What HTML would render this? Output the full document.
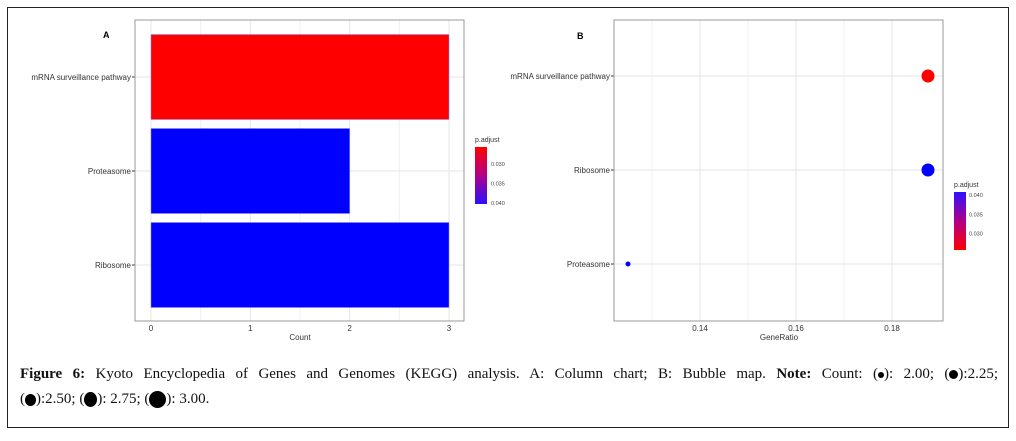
<!DOCTYPE html>
<html><head><meta charset="utf-8"><style>
body{margin:0;background:#fff;width:1016px;height:441px;overflow:hidden;position:relative;font-family:"Liberation Sans",sans-serif}
#frame{position:absolute;left:7px;top:7px;width:1002px;height:421px;border:1px solid #222;box-sizing:border-box}
#cap{position:absolute;left:20px;top:362px;width:978px;font-family:"Liberation Serif",serif;font-size:15px;line-height:25px;color:#111}
#cap .l1{text-align:justify;text-align-last:justify;white-space:nowrap}
.d{display:inline-block;background:#000;border-radius:50%;vertical-align:middle}
svg text{font-family:"Liberation Sans",sans-serif}
</style></head><body>
<div id="frame"></div>
<svg id="chart" width="1016" height="441" style="position:absolute;left:0;top:0">
<defs>
<linearGradient id="gA" x1="0" y1="0" x2="0" y2="1"><stop offset="0" stop-color="#ff0000"/><stop offset="0.5" stop-color="#b0008a"/><stop offset="1" stop-color="#2a10ff"/></linearGradient>
<linearGradient id="gB" x1="0" y1="0" x2="0" y2="1"><stop offset="0" stop-color="#3010ff"/><stop offset="0.5" stop-color="#b0008a"/><stop offset="1" stop-color="#ff0000"/></linearGradient>
</defs>
<g id="pa"></g><g id="pb"></g>
</svg>
<div id="cap"><div class="l1" style="white-space:normal"><b>Figure 6:</b> Kyoto Encyclopedia of Genes and Genomes (KEGG) analysis. A: Column chart; B: Bubble map. <b>Note:</b> Count: (<span class="d" style="width:6px;height:6px"></span>): 2.00; (<span class="d" style="width:9px;height:9px"></span>):2.25;</div><div>(<span class="d" style="width:11px;height:12px"></span>):2.50; (<span class="d" style="width:13px;height:15px"></span>): 2.75; (<span class="d" style="width:17px;height:17px"></span>): 3.00.</div></div>
<script>
const catsA=["mRNA surveillance pathway","Proteasome","Ribosome"];
const countsA=[3,2,3];
const padjA=[0.027,0.040,0.040];
const ticksA=[0,1,2,3];
const catsB=["mRNA surveillance pathway","Ribosome","Proteasome"];
const ratioB=[0.1875,0.1875,0.125];
const countB=[3,3,2];
const padjB=[0.027,0.040,0.040];
const ticksB=[0.14,0.16,0.18];
const legTicksA=[0.030,0.035,0.040];
const NS="http://www.w3.org/2000/svg";
function mk(p,t,a,txt){const e=document.createElementNS(NS,t);for(const k in a)e.setAttribute(k,a[k]);if(txt!=null)e.textContent=txt;p.appendChild(e);return e;}
function col(p){return p<0.033?"#ff0000":"#0000ff";}
// Panel A
const A=document.getElementById('pa');
const ax=v=>151+v*99.33;
const ay=i=>77+i*94;
const aL=135,aR=464,aT=20,aB=321;
for(let v=0.5;v<3.5;v+=1){let g=mk(A,'line',{x1:ax(v),x2:ax(v),y1:aT,y2:aB,stroke:'#f0f0f0'});}
ticksA.forEach(t=>{let g=mk(A,'line',{x1:ax(t),x2:ax(t),y1:aT,y2:aB,stroke:'#e6e6e6'});
 let l=mk(A,'text',{x:ax(t),y:331,'font-size':8,'text-anchor':'middle',fill:'#333'},t);});
catsA.forEach((c,i)=>{mk(A,'line',{x1:aL,x2:aR,y1:ay(i),y2:ay(i),stroke:'#e6e6e6'});
 let b=mk(A,'rect',{x:ax(0),y:ay(i)-42.5,width:ax(countsA[i])-ax(0),height:85,fill:col(padjA[i]),stroke:'#8888ff','stroke-width':0.5});
 
 let l=mk(A,'text',{x:131,y:ay(i)+3,'font-size':8,'text-anchor':'end',fill:'#333'},c);
 mk(A,'line',{x1:132,x2:135,y1:ay(i),y2:ay(i),stroke:'#333'});});
let fa=mk(A,'rect',{x:aL,y:aT,width:aR-aL,height:aB-aT,fill:'none',stroke:'#999'});
let xt=mk(A,'text',{x:300,y:340,'font-size':8,'text-anchor':'middle',fill:'#333'},'Count');
let la=mk(A,'text',{x:103,y:38,'font-size':9,'font-weight':'bold'},'A');
let lgA=mk(A,'text',{x:475,y:142,'font-size':7,fill:'#333'},'p.adjust');
let cbA=mk(A,'rect',{x:475,y:147,width:12,height:57,fill:'url(#gA)'});
legTicksA.forEach((t,i)=>{let l=mk(A,'text',{x:491,y:166+i*19.5,'font-size':5.5,fill:'#444'},t.toFixed(3));});
// Panel B
const B=document.getElementById('pb');
const bx=v=>700+(v-0.14)*4800;
const by=i=>76+i*94;
const bL=614,bR=943;
[0.13,0.15,0.17].forEach(v=>mk(B,'line',{x1:bx(v),x2:bx(v),y1:aT,y2:aB,stroke:'#f2f2f2'}));
ticksB.forEach(t=>{mk(B,'line',{x1:bx(t),x2:bx(t),y1:aT,y2:aB,stroke:'#e6e6e6'});
 let l=mk(B,'text',{x:bx(t),y:331,'font-size':8,'text-anchor':'middle',fill:'#333'},t.toFixed(2));});
catsB.forEach((c,i)=>{mk(B,'line',{x1:bL,x2:bR,y1:by(i),y2:by(i),stroke:'#e6e6e6'});
 let l=mk(B,'text',{x:610,y:by(i)+3,'font-size':8,'text-anchor':'end',fill:'#333'},c);
 mk(B,'line',{x1:611,x2:614,y1:by(i),y2:by(i),stroke:'#333'});});
catsB.forEach((c,i)=>{let r=2.5+(countB[i]-2)*4;
 let p=mk(B,'circle',{cx:bx(ratioB[i]),cy:by(i),r:r,fill:col(padjB[i])});
 });
let fb=mk(B,'rect',{x:bL,y:aT,width:bR-bL,height:aB-aT,fill:'none',stroke:'#999'});
let xtb=mk(B,'text',{x:779,y:340,'font-size':8,'text-anchor':'middle',fill:'#333'},'GeneRatio');
let lb=mk(B,'text',{x:577,y:39,'font-size':9,'font-weight':'bold'},'B');
let lgB=mk(B,'text',{x:954,y:187,'font-size':7,fill:'#333'},'p.adjust');
let cbB=mk(B,'rect',{x:954,y:192,width:12,height:58,fill:'url(#gB)'});
legTicksA.slice().reverse().forEach((t,i)=>{let l=mk(B,'text',{x:969,y:197+i*19.3,'font-size':5.5,fill:'#444'},t.toFixed(3));});
</script>
</body></html>
